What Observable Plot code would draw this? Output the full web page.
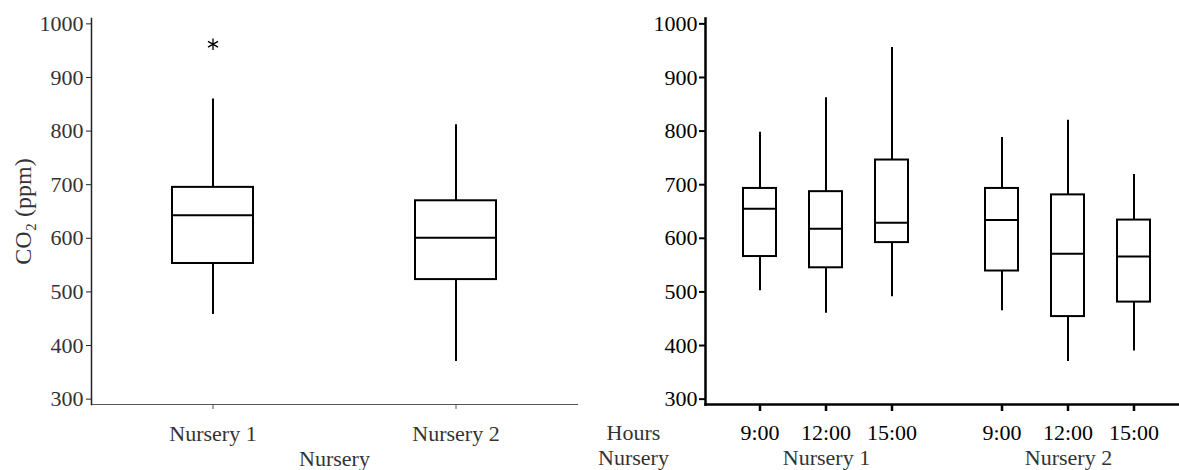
<!DOCTYPE html>
<html>
<head>
<meta charset="utf-8">
<script src="https://cdn.jsdelivr.net/npm/d3@7"></script>
<script src="https://cdn.jsdelivr.net/npm/@observablehq/plot@0.6"></script>
<style>
  html, body { margin: 0; padding: 0; background: #fff; overflow: hidden; }
  #wrap { position: relative; width: 1179px; height: 470px; overflow: hidden; }
  #left, #right { position: absolute; top: 0; }
  #left { left: 0; width: 580px; }
  #right { left: 580px; width: 609px; }
  #wrap svg { max-width: none !important; display: block; }
</style>
</head>
<body>
<div id="wrap"><div id="left"></div><div id="right"></div></div>
<script>
// ---- Left chart data (by nursery) ----
const leftGroups = ["Nursery 1", "Nursery 2"];
const leftMin = [458, 370];
const leftQ1 = [553, 523];
const leftMedian = [643, 601];
const leftQ3 = [695, 670];
const leftMax = [860, 812];
const outlierGroups = ["Nursery 1"];
const outlierValues = [962];

// ---- Right chart data (by nursery and hour) ----
const nurseryGroups = ["Nursery 1", "Nursery 2"];
const hourLabels = ["9:00", "12:00", "15:00"];
const rightNursery = ["Nursery 1", "Nursery 1", "Nursery 1", "Nursery 2", "Nursery 2", "Nursery 2"];
const rightHour = ["9:00", "12:00", "15:00", "9:00", "12:00", "15:00"];
const rightMin = [502, 460, 491, 465, 370, 390];
const rightQ1 = [566, 545, 592, 539, 454, 481];
const rightMedian = [655, 618, 629, 634, 571, 566];
const rightQ3 = [693, 687, 746, 693, 681, 634];
const rightMax = [798, 862, 956, 788, 820, 719];

const yTicks = [300, 400, 500, 600, 700, 800, 900, 1000];
const yDomain = [290, 1010];

const leftData = leftGroups.map((g, i) => ({
  group: g, min: leftMin[i], q1: leftQ1[i], median: leftMedian[i], q3: leftQ3[i], max: leftMax[i]
}));
const outliers = outlierGroups.map((g, i) => ({group: g, value: outlierValues[i]}));
const rightData = rightHour.map((h, i) => ({
  nursery: rightNursery[i], hour: h, min: rightMin[i], q1: rightQ1[i],
  median: rightMedian[i], q3: rightQ3[i], max: rightMax[i]
}));

const font = "'Liberation Serif', 'Times New Roman', serif";

const left = Plot.plot({
  width: 580, height: 470,
  marginLeft: 91, marginRight: 3, marginTop: 18, marginBottom: 66,
  style: {fontFamily: font, fontSize: "22px", color: "#333", background: "white"},
  x: {domain: leftGroups, paddingInner: 0.667, paddingOuter: 0.33},
  y: {domain: yDomain},
  marks: [
    Plot.axisY({ticks: yTicks, tickFormat: "d", tickSize: 5, tickPadding: 3, label: null,
      fontSize: 22, stroke: "#222"}),
    Plot.axisY({ticks: [], label: "CO₂ (ppm)", labelAnchor: "center", labelArrow: "none",
      labelOffset: 78, fontSize: 24}),
    Plot.axisX({tickSize: 5, tickPadding: 16, label: "Nursery", labelAnchor: "center",
      labelArrow: "none", labelOffset: 61, fontSize: 22, stroke: "#555"}),
    Plot.frame({anchor: "bottom", stroke: "#555", strokeWidth: 1.2}),
    Plot.frame({anchor: "left", stroke: "#222", strokeWidth: 1.5}),
    Plot.ruleX(leftData, {x: "group", y1: "q3", y2: "max", stroke: "black", strokeWidth: 2}),
    Plot.ruleX(leftData, {x: "group", y1: "min", y2: "q1", stroke: "black", strokeWidth: 2}),
    Plot.barY(leftData, {x: "group", y1: "q1", y2: "q3", fill: "white", stroke: "black", strokeWidth: 2}),
    Plot.tickY(leftData, {x: "group", y: "median", stroke: "black", strokeWidth: 2}),
    Plot.dot(outliers, {x: "group", y: "value", symbol: "asterisk", r: 5.5, stroke: "black", strokeWidth: 1.3})
  ]
});
document.getElementById("left").append(left);

const right = Plot.plot({
  width: 609, height: 470,
  marginLeft: 124, marginRight: 0, marginTop: 18, marginBottom: 66,
  style: {fontFamily: font, fontSize: "22px", color: "black", background: "white"},
  fx: {domain: nurseryGroups, padding: 0},
  x: {domain: hourLabels, paddingInner: 0.493, paddingOuter: 0.567},
  y: {domain: yDomain},
  marks: [
    Plot.axisY({ticks: yTicks, tickFormat: "d", tickSize: 6, tickPadding: 2, label: null,
      fontSize: 22, strokeWidth: 2}),
    Plot.axisX({tickSize: 7, tickPadding: 13, label: null, fontSize: 22, strokeWidth: 2.5}),
    Plot.axisFx({anchor: "bottom", tickSize: 0, tickPadding: 45, label: null, fontSize: 22, fill: "#333"}),
    Plot.frame({anchor: "left", stroke: "black", strokeWidth: 2.5, facet: "super"}),
    Plot.frame({anchor: "bottom", stroke: "black", strokeWidth: 2.5, facet: "super"}),
    Plot.ruleX(rightData, {fx: "nursery", x: "hour", y1: "q3", y2: "max", stroke: "black", strokeWidth: 2}),
    Plot.ruleX(rightData, {fx: "nursery", x: "hour", y1: "min", y2: "q1", stroke: "black", strokeWidth: 2}),
    Plot.barY(rightData, {fx: "nursery", x: "hour", y1: "q1", y2: "q3", fill: "white", stroke: "black", strokeWidth: 2}),
    Plot.tickY(rightData, {fx: "nursery", x: "hour", y: "median", stroke: "black", strokeWidth: 2}),
    Plot.text(["Hours"], {frameAnchor: "bottom-left", dx: -72, dy: 28, facet: "super",
      textAnchor: "middle", lineAnchor: "middle", fontSize: 22, fill: "#333"}),
    Plot.text(["Nursery"], {frameAnchor: "bottom-left", dx: -72, dy: 53, facet: "super",
      textAnchor: "middle", lineAnchor: "middle", fontSize: 22, fill: "#333"})
  ]
});
document.getElementById("right").append(right);
</script>
</body>
</html>
